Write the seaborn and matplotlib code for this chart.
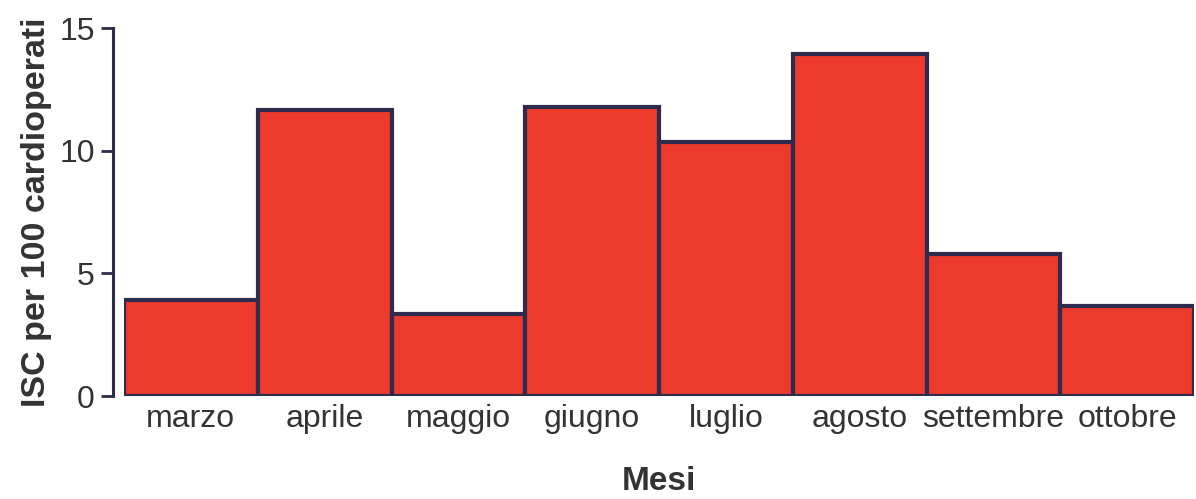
import matplotlib
matplotlib.use('Agg')
import matplotlib.pyplot as plt
import seaborn as sns
import pandas as pd

# Data
mesi = ['marzo', 'aprile', 'maggio', 'giugno', 'luglio', 'agosto', 'settembre', 'ottobre']
isc = [3.9, 11.65, 3.35, 11.8, 10.35, 13.95, 5.8, 3.65]
y_ticks = [0, 5, 10, 15]

df = pd.DataFrame({'Mesi': mesi, 'ISC': isc})

sns.set_style('white')
plt.rcParams['font.family'] = ['Liberation Sans', 'DejaVu Sans']

bar_color = '#EC3A2D'
edge_color = '#2F2B4C'
text_color = '#333333'

fig = plt.figure(figsize=(11.96, 4.99), dpi=100)
ax = fig.add_axes([124 / 1196, 1 - 396 / 499, 1070 / 1196, 368 / 499])

sns.barplot(data=df, x='Mesi', y='ISC', color=bar_color, saturation=1,
            width=1, edgecolor=edge_color, linewidth=3.0, ax=ax)

ax.set_xlim(-0.5, len(mesi) - 0.5)
ax.set_ylim(0, 15)
ax.set_yticks(y_ticks)

# Axis styling
for side in ['top', 'right', 'bottom']:
    ax.spines[side].set_visible(False)
ax.spines['left'].set_position(('outward', 8))
ax.spines['left'].set_color(edge_color)
ax.spines['left'].set_linewidth(2.2)
ax.spines['left'].set_bounds(0, 15)

ax.tick_params(axis='y', length=9, width=2.0, color=edge_color, labelsize=23,
               labelcolor=text_color, pad=4, left=True)
ax.tick_params(axis='x', length=0, labelsize=23, labelcolor=text_color, pad=6)

ax.set_ylabel('ISC per 100 cardioperati', fontsize=24.5, fontweight='bold',
              color=text_color, labelpad=5)
ax.set_xlabel('Mesi', fontsize=24, fontweight='bold', color=text_color, labelpad=23)

fig.savefig('out.png', dpi=100)
